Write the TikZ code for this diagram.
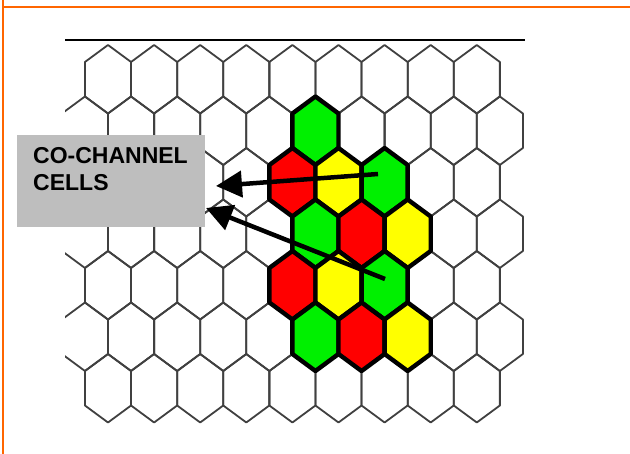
\documentclass[tikz,border=0pt]{standalone}
\usepackage{fontspec}
\setmainfont{Liberation Sans}
\usetikzlibrary{arrows.meta}
\definecolor{orng}{HTML}{FF6600}
\definecolor{gridc}{HTML}{404040}
\definecolor{boxgray}{HTML}{BEBEBE}
\definecolor{cgreen}{HTML}{00F000}
\definecolor{cred}{HTML}{FF0000}
\definecolor{cyellow}{HTML}{FFFF00}
\tikzset{
  gridline/.style={draw=gridc, line width=1.8pt, line join=round},
  cellline/.style={draw=black, line width=4.4pt, line join=round},
  framel/.style={draw=orng, line width=2.4pt},
  arr/.style={draw=black, line width=4.5pt, -{Triangle[length=26pt,width=26pt]}},
  labeltext/.style={font=\bfseries\fontsize{23}{27}\selectfont, align=left, inner sep=0pt, anchor=north west}
}
\begin{document}
\begin{tikzpicture}[x=1pt,y=-1pt]
\useasboundingbox (0,0) rectangle (630,454);
\fill[white] (0,0) rectangle (630,454);
% orange frame
\draw[framel] (2.7,0) -- (2.7,454);
\draw[framel] (2.7,7) -- (630,7);
% top rule
\draw[black, line width=1.8pt] (65,40) -- (525,40);
% hexagonal grid
\begin{scope}
\clip (65,41) rectangle (526,430);
\foreach \k in {0,2,4,6} {
  \foreach \i in {0,...,8} {
    \draw[gridline, shift={({108+46.1*\i},{79.25+51.5*\k})}] (0,-34.25) -- (23.05,-17.25) -- (23.05,17.25) -- (0,34.25) -- (-23.05,17.25) -- (-23.05,-17.25) -- cycle;
  }
}
\foreach \k in {1,3,5} {
  \foreach \i in {0,...,9} {
    \draw[gridline, shift={({84.95+46.1*\i},{79.25+51.5*\k})}] (0,-34.25) -- (23.05,-17.25) -- (23.05,17.25) -- (0,34.25) -- (-23.05,17.25) -- (-23.05,-17.25) -- cycle;
  }
}
\end{scope}
% coloured co-channel cluster
\foreach \cx/\cy/\col in {
  315.45/130.75/cgreen,
  292.4/182.25/cred, 338.5/182.25/cyellow, 384.6/182.25/cgreen,
  315.45/233.75/cgreen, 361.55/233.75/cred, 407.65/233.75/cyellow,
  292.4/285.25/cred, 338.5/285.25/cyellow, 384.6/285.25/cgreen,
  315.45/336.75/cgreen, 361.55/336.75/cred, 407.65/336.75/cyellow} {
  \filldraw[cellline, fill=\col, shift={(\cx,\cy)}] (0,-34.25) -- (23.05,-17.25) -- (23.05,17.25) -- (0,34.25) -- (-23.05,17.25) -- (-23.05,-17.25) -- cycle;
}
% label box
\node[fill=boxgray, minimum width=188pt, minimum height=92pt, inner sep=0pt, anchor=north west] (box) at (17,135) {};
\node[labeltext] (label) at (33,147.5) {CO-CHANNEL\\CELLS};
% arrows
\coordinate (tail1) at (378,174);
\coordinate (tip1) at (216,186);
\coordinate (tail2) at (385,279);
\coordinate (tip2) at (206,208);
\draw[arr] (tail1) -- (tip1);
\draw[arr] (tail2) -- (tip2);
\end{tikzpicture}
\end{document}
